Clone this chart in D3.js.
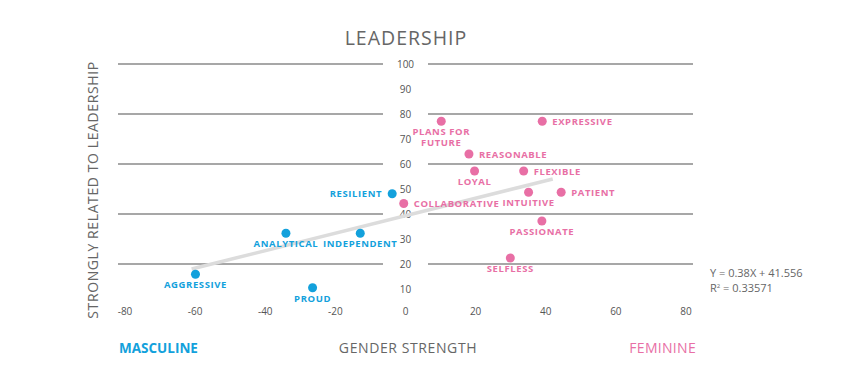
<!DOCTYPE html>
<html lang="en">
<head>
	<meta charset="UTF-8"/>
	<title>Leadership</title>
	<script src="https://d3js.org/d3.v7.min.js"></script>
	<style>
		body { margin: 0; background: #fff; }
		text { font-family: "Open Sans", sans-serif; }
	</style>
</head>
<body>
	<script>
		var w = 850;
		var h = 368;

		// traits: gender strength (x), leadership relation (y)
		var traits = ["RESILIENT", "ANALYTICAL", "INDEPENDENT", "AGGRESSIVE", "PROUD",
			"COLLABORATIVE", "PLANS FOR|FUTURE", "EXPRESSIVE", "REASONABLE", "LOYAL",
			"FLEXIBLE", "INTUITIVE", "PATIENT", "PASSIONATE", "SELFLESS"];
		var genderX = [-3.8, -34.1, -12.9, -59.9, -26.5,
			-0.5, 10.2, 39.0, 18.1, 19.7,
			33.7, 35.1, 44.4, 38.9, 29.9];
		var leadY = [48.1, 32.3, 32.3, 15.9, 10.5,
			44.2, 77.1, 77.1, 64.0, 57.2,
			57.2, 48.7, 48.7, 37.2, 22.4];
		var side = ["m", "m", "m", "m", "m",
			"f", "f", "f", "f", "f",
			"f", "f", "f", "f", "f"];
		var labelPos = ["left", "below", "below", "below", "below",
			"right", "below", "right", "right", "below",
			"right", "below", "right", "below", "below"];

		var xTicks = [-80, -60, -40, -20, 0, 20, 40, 60, 80];
		var yTicks = [0, 10, 20, 30, 40, 50, 60, 70, 80, 90, 100];
		var gridTicks = [20, 40, 60, 80, 100];
		var trend = [[-61, 18], [42, 54]];

		var blue = "#13a1dc";
		var pink = "#e86fa5";
		var grey = "#666";

		var xScale = d3.scaleLinear().domain([-80, 80]).range([125, 686]);
		var yScale = d3.scaleLinear().domain([0, 100]).range([314, 64]);

		var svg = d3.select("body").append("svg")
			.attr("width", w)
			.attr("height", h);

		// title
		svg.append("text")
			.attr("x", 406).attr("y", 45)
			.attr("text-anchor", "middle")
			.attr("font-size", 19.5)
			.attr("letter-spacing", 1)
			.attr("fill", grey)
			.text("LEADERSHIP");

		// gridlines, broken around the tick labels
		svg.selectAll(".gl").data(gridTicks).enter().append("line")
			.attr("x1", 118).attr("x2", 383)
			.attr("y1", d => yScale(d)).attr("y2", d => yScale(d))
			.attr("stroke", "#8a8a8a").attr("stroke-width", 1.3);
		svg.selectAll(".gr").data(gridTicks).enter().append("line")
			.attr("x1", 428).attr("x2", 693)
			.attr("y1", d => yScale(d)).attr("y2", d => yScale(d))
			.attr("stroke", "#8a8a8a").attr("stroke-width", 1.3);

		// y tick labels in the middle
		svg.selectAll(".yt").data(yTicks.filter(d => d > 0)).enter().append("text")
			.attr("x", xScale(0)).attr("y", d => yScale(d) + 3.5)
			.attr("text-anchor", "middle")
			.attr("font-size", 10)
			.attr("fill", "#555")
			.text(d => d);

		// x tick labels
		svg.selectAll(".xt").data(xTicks).enter().append("text")
			.attr("x", d => xScale(d)).attr("y", 315)
			.attr("text-anchor", "middle")
			.attr("font-size", 10)
			.attr("fill", "#555")
			.text(d => d);

		// trend line
		svg.append("line")
			.attr("x1", xScale(trend[0][0])).attr("y1", yScale(trend[0][1]))
			.attr("x2", xScale(trend[1][0])).attr("y2", yScale(trend[1][1]))
			.attr("stroke", "#dcdcdc").attr("stroke-width", 3.5);

		var pts = traits.map(function(t, i) {
			return { name: t, x: genderX[i], y: leadY[i], side: side[i], pos: labelPos[i] };
		});

		svg.selectAll("circle").data(pts).enter().append("circle")
			.attr("cx", d => xScale(d.x))
			.attr("cy", d => yScale(d.y))
			.attr("r", 4.5)
			.attr("fill", d => d.side == "m" ? blue : pink);

		// one text element per label line
		var lines = [];
		pts.forEach(function(d) {
			d.name.split("|").forEach(function(p, k) {
				lines.push({ d: d, text: p, k: k });
			});
		});

		svg.selectAll(".lbl").data(lines).enter().append("text")
			.attr("font-size", 9.5)
			.attr("font-weight", "bold")
			.attr("letter-spacing", 0.6)
			.attr("fill", l => l.d.side == "m" ? blue : pink)
			.attr("text-anchor", l => l.d.pos == "left" ? "end" : l.d.pos == "right" ? "start" : "middle")
			.attr("x", l => xScale(l.d.x) + (l.d.pos == "left" ? -10 : l.d.pos == "right" ? 10 : 0))
			.attr("y", l => yScale(l.d.y) + (l.d.pos == "below" ? 14 : 3.5) + l.k * 11)
			.text(l => l.text);

		// y axis title
		svg.append("text")
			.attr("transform", "translate(98,190) rotate(-90)")
			.attr("text-anchor", "middle")
			.attr("font-size", 14)
			.attr("letter-spacing", 0.6)
			.attr("fill", grey)
			.text("STRONGLY RELATED TO LEADERSHIP");

		// bottom labels
		svg.append("text")
			.attr("x", 119).attr("y", 353)
			.attr("font-size", 13.5).attr("font-weight", "bold")
			.attr("fill", blue)
			.text("MASCULINE");
		svg.append("text")
			.attr("x", 408).attr("y", 353)
			.attr("text-anchor", "middle")
			.attr("font-size", 14)
			.attr("letter-spacing", 0.6)
			.attr("fill", grey)
			.text("GENDER STRENGTH");
		svg.append("text")
			.attr("x", 696).attr("y", 353)
			.attr("text-anchor", "end")
			.attr("font-size", 14)
			.attr("letter-spacing", 0.3)
			.attr("fill", pink)
			.text("FEMININE");

		// regression equation
		svg.append("text")
			.attr("x", 710).attr("y", 277)
			.attr("font-size", 11)
			.attr("fill", grey)
			.text("Y = 0.38X + 41.556");
		var r2 = svg.append("text")
			.attr("x", 710).attr("y", 292)
			.attr("font-size", 11)
			.attr("fill", grey);
		r2.append("tspan").text("R");
		r2.append("tspan").attr("font-size", 6).attr("dy", -4).text("2");
		r2.append("tspan").attr("dy", 4).text(" = 0.33571");
	</script>
</body>
</html>
